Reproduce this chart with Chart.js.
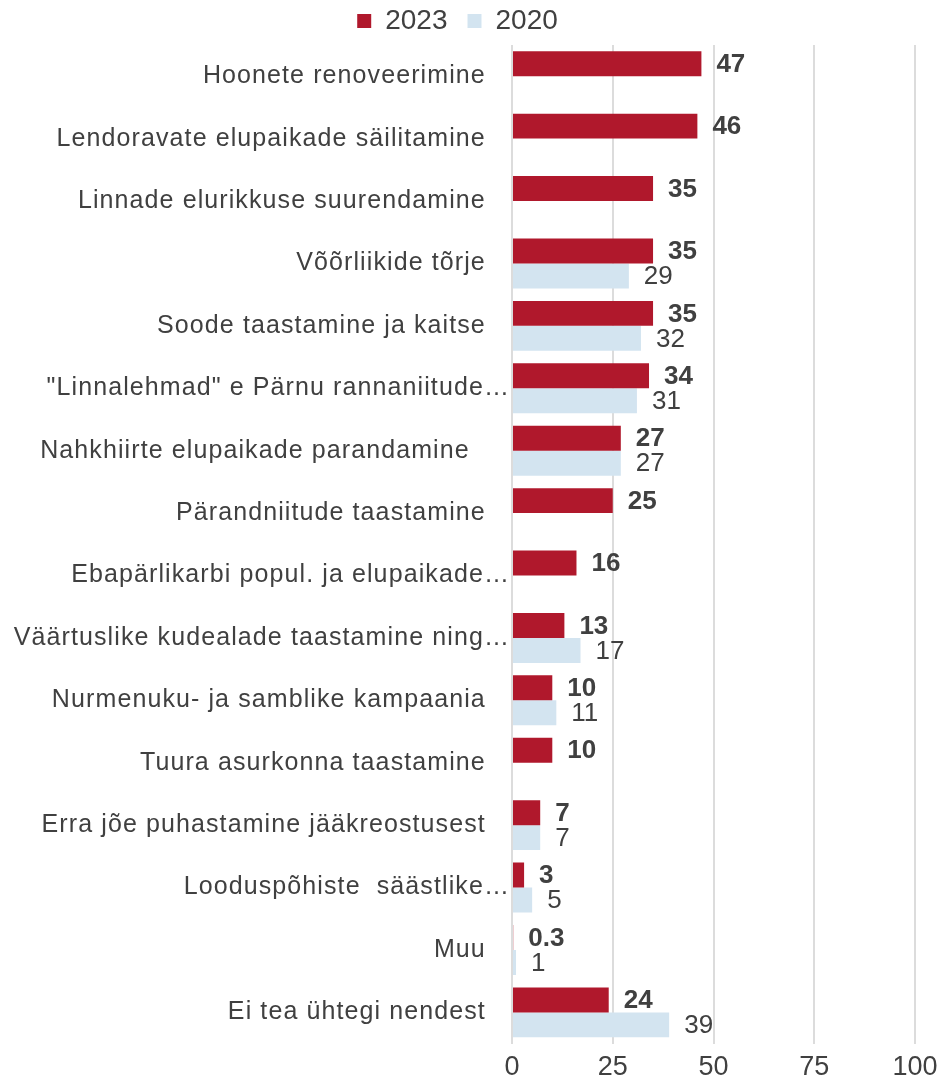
<!DOCTYPE html>
<html>
<head>
<meta charset="utf-8">
<script src="https://cdn.jsdelivr.net/npm/chart.js@4/dist/chart.umd.min.js"></script>
<style>
  html, body { margin: 0; padding: 0; background: #fff; }
  #wrap { position: relative; width: 940px; height: 1079px; }
</style>
</head>
<body>
<div id="wrap"><canvas id="chart"></canvas></div>
<script>
// ── Data ─────────────────────────────────────────────────────────
// trailing spaces keep the original ragged right edge of the labels
const categories = [
  "Hoonete renoveerimine   ",
  "Lendoravate elupaikade säilitamine   ",
  "Linnade elurikkuse suurendamine   ",
  "Võõrliikide tõrje   ",
  "Soode taastamine ja kaitse   ",
  "\"Linnalehmad\" e Pärnu rannaniitude…",
  "Nahkhiirte elupaikade parandamine     ",
  "Pärandniitude taastamine   ",
  "Ebapärlikarbi popul. ja elupaikade…",
  "Väärtuslike kudealade taastamine ning…",
  "Nurmenuku- ja samblike kampaania   ",
  "Tuura asurkonna taastamine   ",
  "Erra jõe puhastamine jääkreostusest   ",
  "Looduspõhiste  säästlike…",
  "Muu   ",
  "Ei tea ühtegi nendest   ",
];
const values2023 = [47, 46, 35, 35, 35, 34, 27, 25, 16, 13, 10, 10, 7, 3, 0.3, 24];
const values2020 = [null, null, null, 29, 32, 31, 27, null, null, 17, 11, null, 7, 5, 1, 39];
const xTicks     = [0, 25, 50, 75, 100];

const RED   = "#B0182C";
const BLUE  = "#D3E4F0";
const TEXT  = "#404040";
const FONT  = "'Liberation Sans', Arial, sans-serif";

// ── Value labels next to bar ends ────────────────────────────────
const valueLabels = {
  id: "valueLabels",
  afterDatasetsDraw(chart) {
    const ctx = chart.ctx;
    ctx.save();
    chart.data.datasets.forEach((ds, di) => {
      const meta = chart.getDatasetMeta(di);
      ctx.font = (di === 0 ? "bold " : "") + "26px " + FONT;
      ctx.fillStyle = TEXT;
      ctx.textAlign = "left";
      ctx.textBaseline = "middle";
      meta.data.forEach((bar, i) => {
        const v = ds.data[i];
        if (v === null || v === undefined) return;
        ctx.fillText(String(v), bar.x + 15, bar.y + 1);
      });
    });
    ctx.restore();
    // category labels (ticks z:1) are drawn after this hook, a bit wider spaced
    ctx.letterSpacing = "1.1px";
  },
  afterDraw(chart) {
    chart.ctx.letterSpacing = "0px";
  },
};

new Chart(document.getElementById("chart"), {
  type: "bar",
  data: {
    labels: categories,
    datasets: [
      { label: "2023", data: values2023, backgroundColor: RED },
      { label: "2020", data: values2020, backgroundColor: BLUE },
    ],
  },
  options: {
    indexAxis: "y",
    responsive: true,
    maintainAspectRatio: false,
    animation: false,
    devicePixelRatio: 1,
    categoryPercentage: 0.8,
    barPercentage: 1.0,
    layout: { padding: { top: -13, right: 25, bottom: -13, left: 0 } },
    plugins: {
      legend: {
        position: "top",
        maxHeight: 58,
        labels: {
          color: TEXT,
          font: { family: FONT, size: 28 },
          boxWidth: 14,
          boxHeight: 14,
          padding: 20,
        },
      },
      tooltip: { enabled: false },
    },
    scales: {
      x: {
        min: 0,
        max: 100,
        afterBuildTicks: axis => { axis.ticks = xTicks.map(v => ({ value: v })); },
        afterFit: axis => { axis.paddingRight = 25; },
        grid: { color: "#DCDCDC", lineWidth: 2, drawTicks: false },
        border: { display: false },
        ticks: { color: TEXT, font: { family: FONT, size: 27 }, padding: 8 },
      },
      y: {
        afterFit: axis => { axis.width = 512; },
        grid: { display: false, drawTicks: false },
        border: { display: false },
        ticks: { color: TEXT, font: { family: FONT, size: 25 }, padding: 2, z: 1, autoSkip: false },
      },
    },
  },
  plugins: [valueLabels],
});
</script>
</body>
</html>
